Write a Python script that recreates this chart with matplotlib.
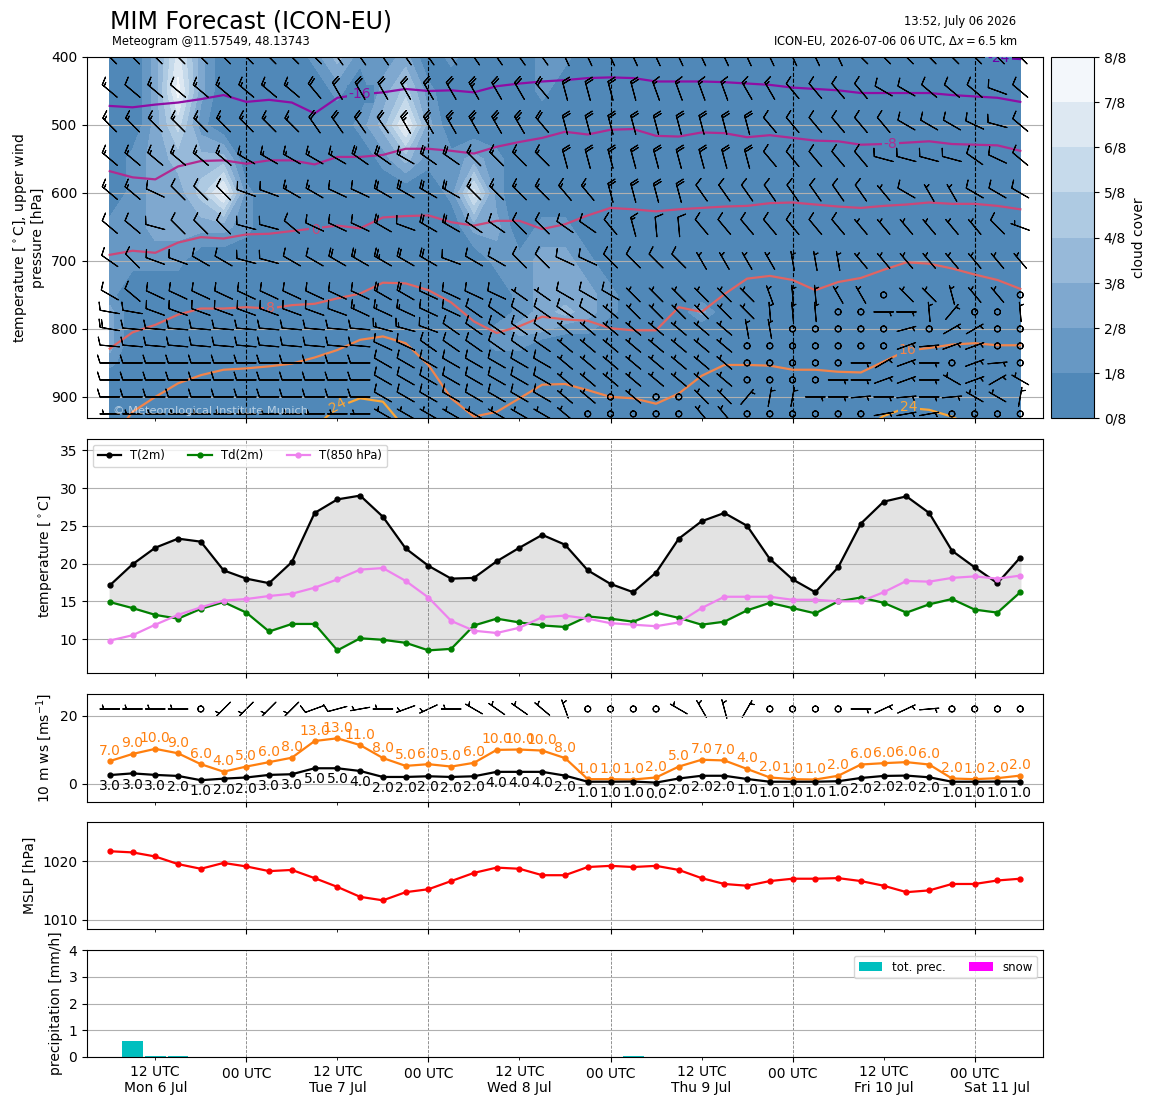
import numpy as np
import pandas as pd
import matplotlib
matplotlib.use('Agg')
import matplotlib.pyplot as plt
import matplotlib.dates as mdates


def expand(runs):
    # (value, count) pairs -> flat list
    out = []
    for val, n in runs:
        out += [val] * n
    return out


# ---------------- data ----------------
times = pd.date_range('2026-07-06 06:00', periods=41, freq='3h')

t2m = [17.1, 19.9, 22.1, 23.3, 22.9, 19.1, 18.0, 17.4, 20.2, 26.7, 28.5, 29.0, 26.2, 22.0,
       19.7, 18.0, 18.1, 20.3, 22.1, 23.8, 22.5, 19.1, 17.3, 16.2, 18.8, 23.3, 25.6, 26.7,
       25.0, 20.6, 17.9, 16.2, 19.5, 25.3, 28.2, 28.9, 26.7, 21.7, 19.5, 17.4, 20.8]
td2m = [14.9, 14.1, 13.2, 12.7, 14.0, 14.9, 13.5, 11.0, 12.0, 12.0, 8.5, 10.1, 9.9, 9.5,
        8.5, 8.7, 11.8, 12.7, 12.2, 11.8, 11.6, 13.0, 12.7, 12.3, 13.5, 12.8, 11.9, 12.3,
        13.8, 14.8, 14.1, 13.4, 15.0, 15.5, 14.8, 13.5, 14.6, 15.3, 13.9, 13.5, 16.2]
t850 = [9.8, 10.5, 11.9, 13.2, 14.2, 15.1, 15.3, 15.7, 16.0, 16.8, 17.9, 19.2, 19.4, 17.7,
        15.5, 12.4, 11.1, 10.8, 11.5, 12.9, 13.1, 12.7, 12.1, 11.9, 11.7, 12.2, 14.1, 15.6,
        15.6, 15.6, 15.2, 15.2, 15.0, 15.0, 16.2, 17.7, 17.6, 18.1, 18.3, 18.0, 18.4]

ws10 = [2.6, 3.1, 2.65, 2.35, 1.1, 1.55, 1.9, 2.65, 2.85, 4.6, 4.6, 3.8, 2.05, 2.05, 2.25,
        2.05, 2.25, 3.55, 3.55, 3.55, 2.45, 0.65, 0.65, 0.7, 0.4, 1.6, 2.4, 2.4, 1.45, 0.65,
        0.65, 0.65, 0.8, 1.75, 2.35, 2.45, 1.95, 0.65, 0.65, 0.7, 0.7]
gust10 = [6.7, 8.8, 10.3, 9.0, 5.8, 3.6, 5.1, 6.4, 7.7, 12.6, 13.4, 11.4, 7.6, 5.3, 5.8, 5.1,
          6.2, 10.0, 10.1, 9.8, 7.6, 1.4, 1.4, 1.3, 1.9, 5.1, 7.1, 6.9, 4.4, 1.9, 1.4, 1.3,
          2.4, 5.7, 6.1, 6.4, 5.7, 1.6, 1.4, 1.7, 2.45]
wd10 = expand([(270, 4), (0, 1), (225, 4), (250, 1), (255, 1), (260, 1), (270, 1), (250, 1),
               (245, 1), (270, 1), (300, 1), (305, 2), (310, 1), (340, 1), (0, 4), (300, 1),
               (330, 1), (345, 1), (30, 1), (0, 4), (90, 1), (65, 2), (85, 1), (0, 4)])

mslp = [1021.7, 1021.5, 1020.8, 1019.5, 1018.7, 1019.7, 1019.1, 1018.3, 1018.5, 1017.1,
        1015.6, 1013.9, 1013.3, 1014.7, 1015.2, 1016.6, 1018.0, 1018.9, 1018.7, 1017.6,
        1017.6, 1019.0, 1019.2, 1019.0, 1019.2, 1018.5, 1017.1, 1016.1, 1015.8, 1016.6,
        1017.0, 1017.0, 1017.1, 1016.6, 1015.8, 1014.7, 1015.0, 1016.1, 1016.1, 1016.7,
        1017.0]

tot_prec = [0.0] * 41
tot_prec[1] = 0.6
tot_prec[2] = 0.03
tot_prec[3] = 0.03
tot_prec[23] = 0.02
snow = [0.0] * 41

# upper air: pressure levels of the wind barbs
plevs = [400, 450, 500, 550, 600, 650, 700, 750, 775, 800, 825, 850, 875, 900, 925]

# wind direction (deg, from) and speed (kt) per level
wdir = {
    400: expand([(315, 10), (325, 10), (335, 13), (315, 8)]),
    450: expand([(310, 9), (320, 1), (330, 9), (320, 1), (345, 4), (340, 4), (330, 2), (320, 4),
                 (300, 2), (310, 3), (290, 1), (310, 1)]),
    500: expand([(315, 9), (325, 4), (330, 6), (320, 1), (345, 9), (320, 6), (300, 3), (295, 1),
                 (285, 1), (310, 1)]),
    550: expand([(310, 6), (300, 5), (305, 2), (300, 1), (305, 2), (315, 4), (345, 9), (320, 5),
                 (285, 4), (305, 1), (295, 1), (310, 1)]),
    600: expand([(310, 2), (295, 1), (315, 3), (290, 2), (300, 2), (295, 2), (300, 4), (315, 4),
                 (320, 2), (345, 4), (325, 8), (320, 1), (300, 1), (330, 2), (300, 3)]),
    650: expand([(310, 2), (285, 1), (315, 3), (285, 2), (310, 1), (295, 3), (300, 1), (290, 1),
                 (300, 2), (305, 2), (315, 2), (305, 2), (320, 1), (345, 1), (355, 2), (320, 13),
                 (315, 1), (290, 1)]),
    700: expand([(305, 1), (315, 1), (290, 2), (300, 2), (285, 2), (300, 7), (290, 1), (300, 2),
                 (315, 2), (295, 2), (315, 4), (330, 4), (350, 3), (320, 8)]),
    750: expand([(300, 1), (310, 1), (295, 10), (300, 2), (295, 4), (305, 2), (300, 3), (315, 6),
                 (340, 1), (355, 2), (330, 2), (0, 1), (315, 2), (345, 1), (320, 2), (0, 1)]),
    775: expand([(280, 2), (290, 9), (295, 5), (305, 6), (310, 1), (315, 6), (355, 3), (0, 2),
                 (90, 2), (355, 1), (40, 1), (0, 2), (355, 1)]),
    800: expand([(280, 1), (275, 11), (285, 2), (290, 1), (305, 5), (310, 8), (350, 2), (0, 5),
                 (75, 1), (0, 1), (60, 2), (0, 2)]),
    825: expand([(275, 12), (295, 2), (305, 6), (310, 8), (0, 7), (70, 1), (85, 1), (70, 2),
                 (0, 2)]),
    850: expand([(270, 12), (300, 8), (310, 8), (0, 5), (90, 1), (60, 1), (70, 1), (90, 1),
                 (0, 1), (70, 1), (85, 1), (0, 1)]),
    875: expand([(270, 12), (300, 8), (310, 8), (0, 4), (90, 2), (70, 2), (90, 1), (300, 1),
                 (70, 1), (60, 1), (300, 1)]),
    900: expand([(270, 12), (300, 8), (310, 2), (0, 1), (310, 1), (0, 2), (315, 2), (40, 1),
                 (10, 2), (90, 2), (85, 1), (90, 1), (85, 1), (90, 1), (85, 1), (300, 2), (10, 1)]),
    925: expand([(270, 12), (300, 8), (310, 1), (0, 5), (320, 2), (0, 6), (80, 3), (0, 4)]),
}
wspd = {
    400: expand([(20, 41)]),
    450: expand([(15, 1), (10, 1), (15, 1), (10, 1), (15, 5), (20, 7), (25, 1), (20, 7),
                 (15, 6), (10, 11)]),
    500: expand([(15, 9), (20, 4), (25, 6), (20, 10), (10, 12)]),
    550: expand([(15, 11), (20, 2), (15, 1), (20, 2), (15, 4), (20, 9), (10, 12)]),
    600: expand([(15, 2), (10, 6), (15, 2), (10, 2), (20, 4), (15, 6), (20, 4), (10, 8), (5, 1),
                 (10, 1), (5, 2), (10, 3)]),
    650: expand([(10, 12), (20, 1), (10, 1), (20, 2), (10, 7), (15, 1), (10, 9), (5, 6), (10, 1),
                 (5, 1)]),
    700: expand([(10, 10), (20, 2), (25, 1), (20, 2), (10, 11), (5, 15)]),
    750: expand([(10, 12), (20, 2), (10, 4), (5, 2), (10, 3), (5, 11), (0, 1), (5, 5), (0, 1)]),
    775: expand([(10, 11), (15, 3), (10, 8), (5, 10), (0, 2), (5, 4), (0, 2), (5, 1)]),
    800: expand([(20, 1), (10, 11), (15, 2), (10, 6), (5, 10), (0, 5), (5, 1), (0, 1), (5, 2),
                 (0, 2)]),
    825: expand([(10, 20), (5, 8), (0, 7), (5, 4), (0, 2)]),
    850: expand([(10, 20), (5, 8), (0, 5), (5, 4), (0, 1), (5, 2), (0, 1)]),
    875: expand([(10, 20), (5, 8), (0, 4), (5, 9)]),
    900: expand([(10, 20), (5, 2), (0, 1), (5, 1), (0, 2), (5, 15)]),
    925: expand([(5, 21), (0, 5), (5, 2), (0, 6), (5, 3), (0, 4)]),
}

# cloud cover in eighths (grid points that are not clear)
cloud_8ths = {
    400: {2: 2, 3: 6, 4: 2, 9: 1, 10: 3, 11: 1, 12: 1, 13: 2, 15: 1, 19: 1, 20: 1},
    450: {2: 2, 3: 7, 4: 2, 10: 1, 12: 2, 13: 4, 14: 1, 19: 1},
    500: {2: 2, 3: 5, 4: 1, 11: 1, 12: 3, 13: 7, 14: 2},
    550: {1: 1, 2: 2, 3: 3, 4: 3, 5: 3, 12: 1, 13: 3, 14: 1, 15: 1, 16: 2, 17: 1},
    600: {1: 1, 2: 2, 3: 2, 4: 4, 5: 7, 6: 1, 15: 1, 16: 6, 17: 1},
    650: {0: 1, 1: 1, 2: 2, 3: 2, 4: 2, 5: 2, 6: 1, 16: 2, 17: 2, 19: 1, 20: 1},
    700: {0: 1, 1: 1, 2: 1, 3: 1, 17: 1, 18: 1, 19: 2, 20: 2, 21: 1},
    750: {0: 1, 18: 1, 19: 2, 20: 2, 21: 2, 22: 1},
    775: {0: 2, 18: 1, 19: 2, 20: 3, 21: 2, 22: 1, 26: 2},
    800: {0: 2, 17: 1, 18: 2, 19: 2, 20: 1, 21: 1},
    825: {0: 2, 17: 1, 18: 1},
    850: {0: 1},
}
cloud_levs = plevs + [950]

# isotherm pressure (hPa) at each step, nan = not in view
nan = np.nan
iso_m24 = [nan] * 37 + [396, 399, 401, 403]
iso_m16 = [472, 474, 470, 467, 462, 456, 466, 463, 467, 483, 460, 455, 452, 447, 450, 449, 452,
           443, 439, 436, 434, 431, 430, 431, 436, 436, 436, 437, 439, 441, 445, 447, 449, 453,
           453, 453, 453, 456, 458, 460, 466]
iso_m8 = [568, 577, 580, 561, 553, 552, 557, 552, 552, 558, 547, 547, 544, 535, 535, 538, 542,
          532, 525, 519, 510, 514, 507, 506, 516, 517, 511, 512, 518, 515, 519, 523, 524, 529,
          528, 526, 524, 528, 529, 530, 538]
iso_0 = [691, 685, 688, 673, 665, 667, 661, 660, 656, 652, 648, 652, 636, 634, 633, 643, 648,
         641, 641, 653, 646, 633, 622, 624, 627, 624, 622, 620, 619, 615, 614, 617, 620, 622,
         619, 617, 614, 616, 616, 619, 624]
iso_8 = [829, 805, 794, 779, 770, 770, 768, 770, 765, 763, 755, 748, 732, 733, 743, 761, 789,
         806, 796, 782, 786, 788, 799, 802, 802, 768, 775, 749, 726, 722, 728, 743, 731, 725,
         713, 702, 704, 711, 720, 728, 741]
iso_16 = [965, 922, 900, 880, 868, 860, 858, 855, 851, 842, 831, 816, 811, 821, 853, 902, 929,
          922, 902, 882, 881, 890, 900, 902, 910, 895, 869, 853, 853, 854, 860, 860, 863, 864,
          848, 832, 828, 823, 821, 824, 824]
iso_24 = ([nan] * 9 + [945, 915, 902, 907, 947] + [nan] * 19 + [950, 928, 916, 919, 929, 945]
          + [nan] * 2)
isotherms = [(-24, iso_m24), (-16, iso_m16), (-8, iso_m8), (0, iso_0), (8, iso_8),
             (16, iso_16), (24, iso_24)]
# inline labels: text, step, pressure, rotation
iso_labels = [('-24', 39.05, 401, 0), ('-16', 11.0, 454, 0), ('-8', 34.3, 528, 0),
              ('0', 9.05, 654, 0), ('8', 7.05, 769, 0), ('16', 35.05, 831, 0),
              ('24', 10.0, 913, 28), ('24', 35.1, 915, 0)]

cloud_colors = ['#5088b8', '#6798c4', '#7fa8cf', '#97b9d9', '#aecae2', '#c6daeb', '#dde8f2',
                '#f3f7fb']

# ---------------- figure ----------------
W, H = 1155, 1105
fig = plt.figure(figsize=(W / 100, H / 100), dpi=100)


def box(top, bottom, left=87, right=1043):
    return [left / W, 1 - bottom / H, (right - left) / W, (bottom - top) / H]


ax1 = fig.add_axes(box(57, 418))
cax = fig.add_axes(box(57, 418, 1051, 1094))
ax2 = fig.add_axes(box(439, 673))
ax3 = fig.add_axes(box(694, 802))
ax4 = fig.add_axes(box(822, 929))
ax5 = fig.add_axes(box(950, 1057))

x = mdates.date2num(times.to_pydatetime())
step = x[1] - x[0]
xlim = (x[0] - step, x[-1] + step)

# --- upper air panel ---
cloud = np.zeros((len(cloud_levs), len(x)))
for k, p in enumerate(cloud_levs):
    for i, c in cloud_8ths.get(p, {}).items():
        cloud[k, i] = min((c + 0.4) / 8, 1.0)
cf = ax1.contourf(x, cloud_levs, cloud, levels=np.linspace(0, 1, 9), colors=cloud_colors,
                  zorder=0)

for val, pres in isotherms:
    col = plt.cm.plasma((val + 40) / 80)
    ax1.plot(x, pres, color=col, lw=1.6, zorder=2)
for txt, s, p, rot in iso_labels:
    val = int(txt)
    col = plt.cm.plasma((val + 40) / 80)
    ax1.text(x[0] + s * step, p, txt, color=col, fontsize=10, ha='center', va='center',
             rotation=rot, zorder=3, clip_on=True,
             bbox=dict(boxstyle='square,pad=0.15', fc=cloud_colors[0], ec='none'))

X, Y = np.meshgrid(x, plevs)
U = np.zeros(X.shape)
V = np.zeros(X.shape)
for k, p in enumerate(plevs):
    d = np.deg2rad(np.array(wdir[p], dtype=float))
    s = np.array(wspd[p], dtype=float)
    U[k] = -s * np.sin(d)
    V[k] = -s * np.cos(d)
ax1.barbs(X, Y, U, V, length=5.3, pivot='middle', linewidth=0.8, color='k', zorder=4)

ax1.set_xlim(xlim)
ax1.set_ylim(931, 400)
ax1.set_yticks([400, 500, 600, 700, 800, 900])
ax1.grid(axis='y', color='#b0b0b0')
ax1.grid(axis='x', which='major', color='k', ls='--', lw=0.8)
ax1.set_ylabel('temperature [$^\\circ$C], upper wind\npressure [hPa]')
ax1.text(0.027, 0.012, '\u00a9 Meteorological Institute Munich', transform=ax1.transAxes,
         fontsize=8.2, color='white', alpha=0.6, zorder=5)

cb = fig.colorbar(cf, cax=cax, ticks=np.linspace(0, 1, 9))
cb.ax.set_yticklabels(['%d/8' % k for k in range(9)])
cb.set_label('cloud cover')

# --- 2 m temperature panel ---
ax2.fill_between(x, td2m, t2m, color='#e3e3e3', zorder=1)
ax2.plot(x, t2m, color='k', marker='o', ms=3.5, lw=1.6, label='T(2m)', zorder=3)
ax2.plot(x, td2m, color='green', marker='o', ms=3.5, lw=1.6, label='Td(2m)', zorder=3)
ax2.plot(x, t850, color='violet', marker='o', ms=3.5, lw=1.6, label='T(850 hPa)', zorder=3)
ax2.set_ylim(5.5, 36.5)
ax2.set_yticks([10, 15, 20, 25, 30, 35])
ax2.set_ylabel('temperature [$^\\circ$C]')
ax2.legend(loc='upper left', ncol=3, fontsize=8.4)

# --- 10 m wind panel ---
ax3.plot(x, gust10, color='C1', marker='o', ms=3.5, lw=1.6)
ax3.plot(x, ws10, color='k', marker='o', ms=3.5, lw=1.6)
for xi, g in zip(x, gust10):
    ax3.annotate('%.1f' % round(g), (xi, g), xytext=(0, 2.5), textcoords='offset points',
                 ha='center', va='bottom', color='C1', fontsize=10)
for xi, w in zip(x, ws10):
    ax3.annotate('%.1f' % round(w), (xi, w), xytext=(0, -3), textcoords='offset points',
                 ha='center', va='top', color='k', fontsize=10)
kt = np.array(ws10) * 1.94384
d10 = np.deg2rad(np.array(wd10, dtype=float))
ax3.barbs(x, np.full(len(x), 22.0), -kt * np.sin(d10), -kt * np.cos(d10), length=5.3,
          pivot='middle', linewidth=0.8, color='k')
ax3.set_ylim(-5.3, 26.4)
ax3.set_yticks([0, 20])
ax3.set_ylabel('10 m ws [ms$^{-1}$]')

# --- MSLP panel ---
ax4.plot(x, mslp, color='red', marker='o', ms=3.5, lw=1.6)
ax4.set_ylim(1008.4, 1026.7)
ax4.set_yticks([1010, 1020])
ax4.set_ylabel('MSLP [hPa]')

# --- precipitation panel ---
ax5.bar(x, tot_prec, width=0.9 * step, color='c', label='tot. prec.')
ax5.bar(x, snow, width=0.9 * step, color='magenta', label='snow')
ax5.set_ylim(0, 4)
ax5.set_yticks([0, 1, 2, 3, 4])
ax5.set_ylabel('precipitation [mm/h]')
ax5.legend(loc='upper right', ncol=2, fontsize=8.5)

for ax in (ax2, ax3, ax4, ax5):
    ax.set_xlim(xlim)
    ax.grid(axis='y', color='#b0b0b0')
    ax.grid(axis='x', which='major', color='gray', ls='--', lw=0.6)

for ax in (ax1, ax2, ax3, ax4, ax5):
    ax.xaxis.set_major_locator(mdates.HourLocator(byhour=[0]))
    ax.xaxis.set_minor_locator(mdates.HourLocator(byhour=[12]))
    ax.xaxis.set_major_formatter(mdates.DateFormatter('%H UTC'))
    ax.xaxis.set_minor_formatter(mdates.DateFormatter('%H UTC\n%a %-d %b'))
for ax in (ax1, ax2, ax3, ax4):
    ax.tick_params(axis='x', which='both', labelbottom=False)

ax5.annotate(times[-2].strftime('%a %-d %b'), xy=(x[-2], 0), xycoords=('data', 'axes fraction'),
             xytext=(0, -17.5), textcoords='offset points', ha='center', va='top', fontsize=10)

# --- header ---
fig.text(110 / W, 1 - 21 / H, 'MIM Forecast (ICON-EU)', fontsize=17, va='center')
fig.text(112 / W, 1 - 41 / H, 'Meteogram @11.57549, 48.13743', fontsize=8.3, va='center')
fig.text(1016 / W, 1 - 22 / H, '13:52, July 06 2026', fontsize=8.3, va='center', ha='right')
fig.text(1018 / W, 1 - 41 / H, 'ICON-EU, 2026-07-06 06 UTC, $\\Delta x = 6.5$ km', fontsize=8.3,
         va='center', ha='right')

fig.savefig('out.png', dpi=100)
